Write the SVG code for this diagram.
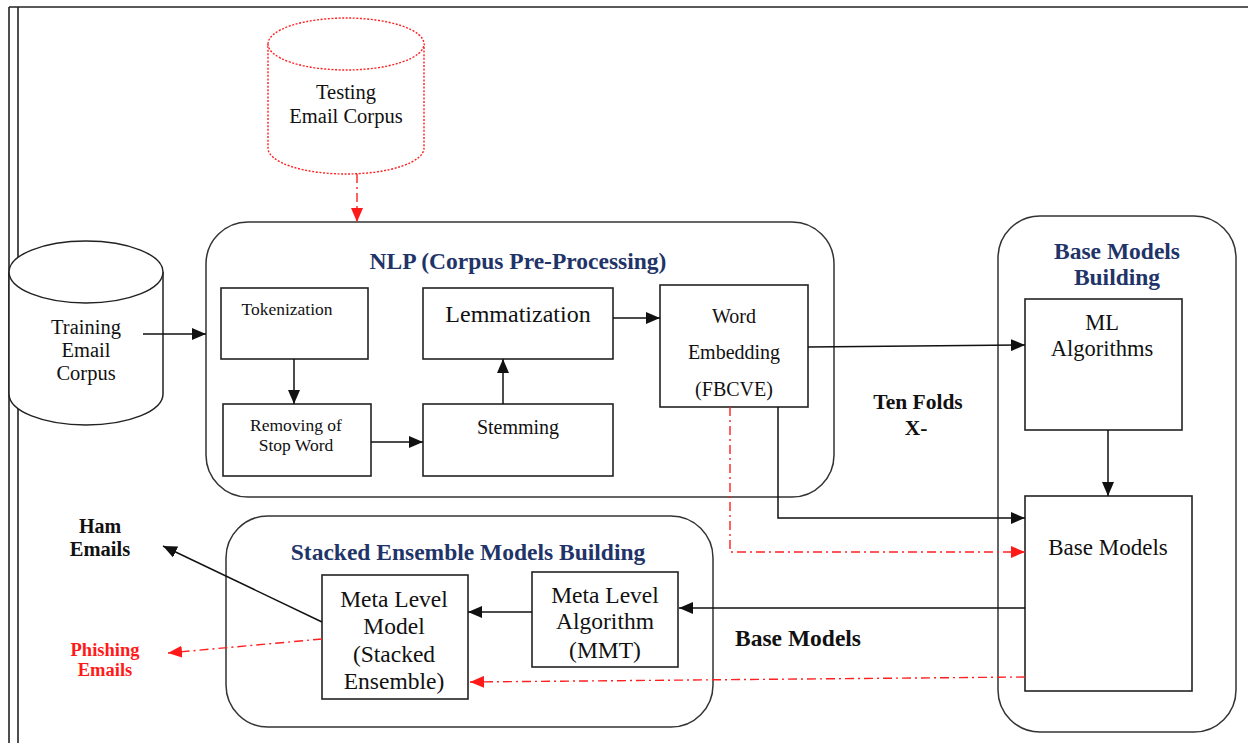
<svg xmlns="http://www.w3.org/2000/svg" width="1248" height="743" viewBox="0 0 1248 743">
<style>
  text { font-family: "Liberation Serif", "Times New Roman", serif; fill: #111; text-anchor: middle; }
  .title { font-weight: bold; fill: #1f3468; font-size: 23.5px; }
  .lbl { font-weight: bold; }
  .red { fill: #ff1a1a; }
  .box { fill: #fff; stroke: #222; stroke-width: 1.6; }
  .group { fill: #fff; stroke: #333; stroke-width: 1.5; }
  .cyl { fill: #fff; stroke: #222; stroke-width: 1.5; }
  .cylred { fill: #fff; stroke: #ff2020; stroke-width: 1.4; stroke-dasharray: 2 1.6; }
  .ln { fill: none; stroke: #111; stroke-width: 1.5; }
  .rln { fill: none; stroke: #ff2020; stroke-width: 1.4; stroke-dasharray: 9 4 2 4; }
  .frame { stroke: #222; stroke-width: 1.6; fill: none; }
</style>
<defs>
  <marker id="ah" markerUnits="userSpaceOnUse" markerWidth="14" markerHeight="12" refX="14" refY="6" orient="auto">
    <path d="M0,0 L14,6 L0,12 z" fill="#111"/>
  </marker>
  <marker id="ahr" markerUnits="userSpaceOnUse" markerWidth="14" markerHeight="12" refX="14" refY="6" orient="auto">
    <path d="M0,0 L14,6 L0,12 z" fill="#ff1a1a"/>
  </marker>
</defs>
<rect width="1248" height="743" fill="#fff"/>
<g id="frame">
  <line class="frame" x1="9" y1="7" x2="1248" y2="7"/>
  <line class="frame" x1="9" y1="7" x2="9" y2="743"/>
  <line class="frame" x1="18" y1="7" x2="18" y2="743"/>
</g>

<g id="testing-corpus">
  <path class="cylred" d="M268,44 A78,26 0 0 1 424,44 V148 A78,26 0 0 1 268,148 Z"/>
  <path class="cylred" d="M268,44 A78,26 0 0 0 424,44"/>
  <text x="346" y="99" font-size="20.5">Testing</text>
  <text x="346" y="123" font-size="20.5">Email Corpus</text>
</g>

<g id="training-corpus">
  <path class="cyl" d="M9,272 A77,31 0 0 1 163,272 V394 A77,31 0 0 1 9,394 Z"/>
  <path class="cyl" d="M9,272 A77,31 0 0 0 163,272"/>
  <text x="86" y="334" font-size="20.5">Training</text>
  <text x="86" y="357" font-size="20.5">Email</text>
  <text x="86" y="380" font-size="20.5">Corpus</text>
</g>

<g id="nlp">
  <rect class="group" x="206" y="222" width="628" height="275" rx="42" ry="42"/>
  <text class="title" x="518" y="269">NLP (Corpus Pre-Processing)</text>
</g>
<g id="tokenization">
  <rect class="box" x="221" y="288" width="147" height="71"/>
  <text x="287" y="315" font-size="17.5">Tokenization</text>
</g>
<g id="removing-stop-word">
  <rect class="box" x="223" y="404" width="148" height="72"/>
  <text x="296" y="431" font-size="17.5">Removing of</text>
  <text x="296" y="451" font-size="17.5">Stop Word</text>
</g>
<g id="stemming">
  <rect class="box" x="423" y="404" width="190" height="72"/>
  <text x="518" y="434" font-size="20">Stemming</text>
</g>
<g id="lemmatization">
  <rect class="box" x="423" y="288" width="190" height="71"/>
  <text x="518" y="322" font-size="24">Lemmatization</text>
</g>
<g id="word-embedding">
  <rect class="box" x="660" y="285" width="148" height="122"/>
  <text x="734" y="323" font-size="20">Word</text>
  <text x="734" y="359" font-size="20">Embedding</text>
  <text x="734" y="396" font-size="20">(FBCVE)</text>
</g>

<g id="base-models-building">
  <rect class="group" x="998" y="216" width="238" height="516" rx="42" ry="42"/>
  <text class="title" x="1117" y="259">Base Models</text>
  <text class="title" x="1117" y="285">Building</text>
</g>
<g id="ml-algorithms">
  <rect class="box" x="1025" y="299" width="157" height="131"/>
  <text x="1102" y="330" font-size="22.5">ML</text>
  <text x="1102" y="356" font-size="22.5">Algorithms</text>
</g>
<g id="base-models">
  <rect class="box" x="1025" y="496" width="167" height="195"/>
  <text x="1108" y="555" font-size="23">Base Models</text>
</g>

<g id="stacked-ensemble">
  <rect class="group" x="226" y="516" width="487" height="211" rx="42" ry="42"/>
  <text class="title" x="468" y="560">Stacked Ensemble Models Building</text>
</g>
<g id="meta-level-model">
  <rect class="box" x="322" y="575" width="146" height="124"/>
  <text x="394" y="607" font-size="23.5">Meta Level</text>
  <text x="394" y="634" font-size="23.5">Model</text>
  <text x="394" y="662" font-size="23.5">(Stacked</text>
  <text x="394" y="689" font-size="23.5">Ensemble)</text>
</g>
<g id="meta-level-algorithm">
  <rect class="box" x="532" y="572" width="146" height="95"/>
  <text x="605" y="603" font-size="23.5">Meta Level</text>
  <text x="605" y="629" font-size="23.5">Algorithm</text>
  <text x="605" y="658" font-size="23.5">(MMT)</text>
</g>

<g id="ham-emails">
  <text class="lbl" x="100" y="533" font-size="20">Ham</text>
  <text class="lbl" x="100" y="556" font-size="20.5">Emails</text>
</g>
<g id="phishing-emails">
  <text class="lbl red" x="105" y="656" font-size="18.5">Phishing</text>
  <text class="lbl red" x="105" y="676" font-size="18.5">Emails</text>
</g>
<g id="labels">
  <text class="lbl" x="918" y="409" font-size="21.5">Ten Folds</text>
  <text class="lbl" x="916" y="435" font-size="21.5">X-</text>
  <text class="lbl" x="798" y="646" font-size="23.5">Base Models</text>
</g>

<g id="connectors">
  <line class="rln" x1="357" y1="174" x2="357" y2="222" marker-end="url(#ahr)"/>
  <line class="ln" x1="143" y1="334" x2="206" y2="334" marker-end="url(#ah)"/>
  <line class="ln" x1="294" y1="359" x2="294" y2="404" marker-end="url(#ah)"/>
  <line class="ln" x1="371" y1="442" x2="423" y2="442" marker-end="url(#ah)"/>
  <line class="ln" x1="503" y1="404" x2="503" y2="359" marker-end="url(#ah)"/>
  <line class="ln" x1="613" y1="318" x2="660" y2="318" marker-end="url(#ah)"/>
  <line class="ln" x1="808" y1="347" x2="1025" y2="345" marker-end="url(#ah)"/>
  <path class="ln" d="M778,407 V518 H1025" marker-end="url(#ah)"/>
  <path class="rln" d="M730,407 V552 H1025" marker-end="url(#ahr)"/>
  <line class="ln" x1="1108" y1="430" x2="1108" y2="496" marker-end="url(#ah)"/>
  <line class="ln" x1="1025" y1="608" x2="679" y2="608" marker-end="url(#ah)"/>
  <line class="rln" x1="1025" y1="677" x2="470" y2="682" marker-end="url(#ahr)"/>
  <line class="ln" x1="532" y1="612" x2="468" y2="612" marker-end="url(#ah)"/>
  <line class="ln" x1="322" y1="622" x2="163" y2="546" marker-end="url(#ah)"/>
  <line class="rln" x1="322" y1="639" x2="168" y2="653" marker-end="url(#ahr)"/>
</g>
</svg>
